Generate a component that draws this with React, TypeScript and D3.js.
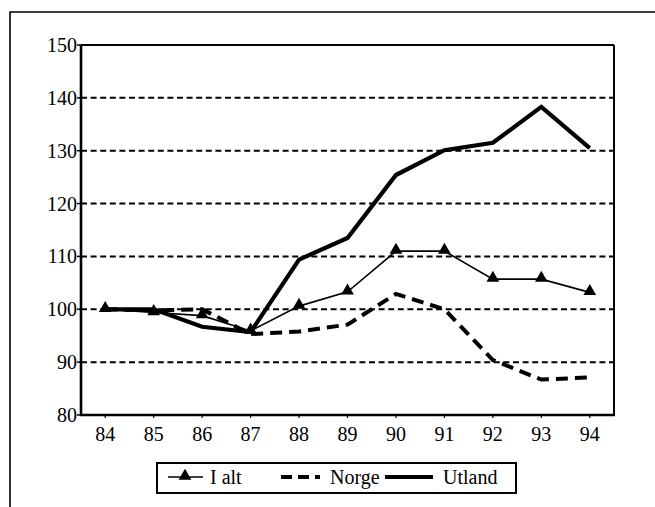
import React from "react";
import * as d3 from "d3";

const years = ["84", "85", "86", "87", "88", "89", "90", "91", "92", "93", "94"];
const iAlt = [100, 99.4, 98.8, 95.9, 100.6, 103.3, 111, 111, 105.7, 105.7, 103.2];
const norge = [100, 99.8, 100, 95.3, 95.8, 97.1, 102.9, 100, 90.4, 86.7, 87.1];
const utland = [100, 100, 96.7, 95.7, 109.4, 113.5, 125.4, 130.1, 131.5, 138.3, 130.5];
const yTicks = [80, 90, 100, 110, 120, 130, 140, 150];
const gridValues = [90, 100, 110, 120, 130, 140];
const legendLabels = ["I alt", "Norge", "Utland"];

const W = 655;
const H = 507;
const L = 81, R = 614, T = 45, B = 415;
const FONT = "Liberation Serif, Times New Roman, serif";
const txt = { fontFamily: FONT, fontSize: "20px" };

export default function App() {
  const x = d3.scaleBand<string>().domain(years).range([L, R]).padding(0);
  const cx = (d: string) => (x(d) as number) + x.bandwidth() / 2;
  const y = d3.scaleLinear().domain([80, 150]).range([B, T]);
  const line = d3
    .line<number>()
    .x((_, i) => cx(years[i]))
    .y((v) => y(v));
  const tri = d3.symbol().type(d3.symbolTriangle).size(70);

  return (
    <svg
      width={W}
      height={H}
      style={{ position: "absolute", left: 0, top: 0, display: "block", background: "#fff" }}
    >
      <rect x={0} y={0} width={W} height={H} fill="#fff" />
      {/* outer frame */}
      <path d={`M10,${H + 5} L10,12 L${W + 5},12`} fill="none" stroke="#000" strokeWidth={1.6} />

      {/* gridlines */}
      {gridValues.map((v) => (
        <line
          key={v}
          x1={L}
          x2={R}
          y1={y(v)}
          y2={y(v)}
          stroke="#000"
          strokeWidth={2}
          strokeDasharray="6,3.6"
        />
      ))}

      {/* plot frame */}
      <line x1={L} x2={R} y1={T} y2={T} stroke="#000" strokeWidth={1.8} />
      <line x1={R} x2={R} y1={T} y2={B} stroke="#000" strokeWidth={2} />
      <line x1={L} x2={L} y1={T} y2={B} stroke="#000" strokeWidth={2.6} />
      <line x1={L - 1} x2={R + 1} y1={B} y2={B} stroke="#000" strokeWidth={2.6} />

      {/* y ticks */}
      {yTicks.map((v) => (
        <g key={v}>
          <line x1={L - 4} x2={L} y1={y(v)} y2={y(v)} stroke="#000" strokeWidth={1.5} />
          <text
            x={L - 4}
            y={y(v) + 7}
            textAnchor="end"
            style={txt}
            fill="#000"
          >
            {v}
          </text>
        </g>
      ))}

      {/* x ticks */}
      {years.map((yr) => (
        <g key={yr}>
          <line x1={cx(yr)} x2={cx(yr)} y1={B} y2={B + 3} stroke="#000" strokeWidth={1.2} />
          <text x={cx(yr)} y={441} textAnchor="middle" style={txt} fill="#000">
            {yr}
          </text>
        </g>
      ))}

      {/* series */}
      <path d={line(norge) as string} fill="none" stroke="#000" strokeWidth={4} strokeDasharray="12,7" />
      <path d={line(utland) as string} fill="none" stroke="#000" strokeWidth={4.2} strokeLinejoin="miter" />
      <path d={line(iAlt) as string} fill="none" stroke="#000" strokeWidth={1.6} />
      {iAlt.map((v, i) => (
        <path key={i} d={tri() as string} transform={`translate(${cx(years[i])},${y(v) - 1})`} fill="#000" />
      ))}

      {/* legend */}
      <rect x={157} y={463} width={359} height={30} fill="none" stroke="#000" strokeWidth={2} />
      <line x1={168} x2={203} y1={477} y2={477} stroke="#000" strokeWidth={1.6} />
      <path d={tri() as string} transform="translate(185,476)" fill="#000" />
      <text x={210} y={484} style={txt} fill="#000">{legendLabels[0]}</text>
      <line x1={281} x2={320} y1={477} y2={477} stroke="#000" strokeWidth={4} strokeDasharray="11,6" />
      <text x={330} y={484} style={txt} fill="#000">{legendLabels[1]}</text>
      <line x1={385} x2={433} y1={477} y2={477} stroke="#000" strokeWidth={4} />
      <text x={443} y={484} style={txt} fill="#000">{legendLabels[2]}</text>
    </svg>
  );
}
